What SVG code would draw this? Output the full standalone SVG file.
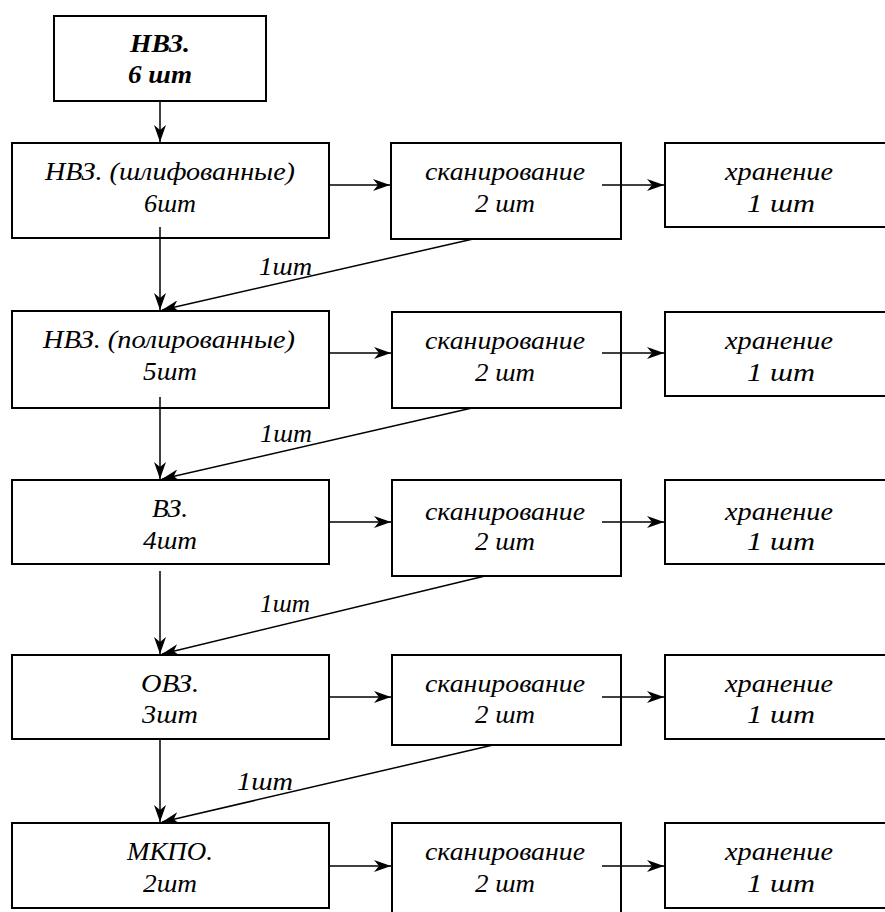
<svg xmlns="http://www.w3.org/2000/svg" width="885" height="912" viewBox="0 0 885 912" font-family="'Liberation Serif', serif">
<style>
rect.b{fill:#fff;stroke:#000;stroke-width:2}
text{font-family:'Liberation Serif',serif;font-style:italic;font-size:25px;fill:#000;text-anchor:middle}
text.bd{font-weight:bold}
text.lb{text-anchor:start}
.c line{stroke:#000;stroke-width:1.5;marker-end:url(#ah)}
</style>
<defs>
<marker id="ah" markerUnits="userSpaceOnUse" markerWidth="18" markerHeight="12" refX="17" refY="6" orient="auto">
<path d="M0,0 L17,6 L0,12 L5,6 z" fill="#000"/>
</marker>
</defs>
<g id="n0"><rect class="b" x="54" y="16" width="212" height="85"/><text class="bd" x="160" y="52" textLength="60" lengthAdjust="spacingAndGlyphs">НВЗ.</text><text class="bd" x="160" y="83" textLength="64" lengthAdjust="spacingAndGlyphs">6 шт</text></g>

<g id="n1"><rect class="b" x="12" y="143" width="317" height="95"/><text x="170" y="180" textLength="250" lengthAdjust="spacingAndGlyphs">НВЗ. (шлифованные)</text><text x="170" y="212" textLength="52" lengthAdjust="spacingAndGlyphs">6шт</text></g>
<g id="s1"><rect class="b" x="391" y="143" width="230" height="96"/><text x="505" y="180" textLength="160" lengthAdjust="spacingAndGlyphs">сканирование</text><text x="505" y="212" textLength="60" lengthAdjust="spacingAndGlyphs">2 шт</text></g>
<g id="h1"><rect class="b" x="665" y="143" width="225" height="84"/><text x="779" y="180" textLength="108" lengthAdjust="spacingAndGlyphs">хранение</text><text x="781" y="212" textLength="68" lengthAdjust="spacingAndGlyphs">1  шт</text></g>

<g id="n2"><rect class="b" x="12" y="311" width="317" height="97"/><text x="169" y="348" textLength="252" lengthAdjust="spacingAndGlyphs">НВЗ. (полированные)</text><text x="170" y="380" textLength="54" lengthAdjust="spacingAndGlyphs">5шт</text></g>
<g id="s2"><rect class="b" x="392" y="312" width="229" height="96"/><text x="505" y="349" textLength="160" lengthAdjust="spacingAndGlyphs">сканирование</text><text x="505" y="381" textLength="60" lengthAdjust="spacingAndGlyphs">2 шт</text></g>
<g id="h2"><rect class="b" x="665" y="312" width="225" height="84"/><text x="779" y="349" textLength="108" lengthAdjust="spacingAndGlyphs">хранение</text><text x="781" y="381" textLength="68" lengthAdjust="spacingAndGlyphs">1  шт</text></g>

<g id="n3"><rect class="b" x="12" y="480" width="317" height="84"/><text x="170" y="517" textLength="36" lengthAdjust="spacingAndGlyphs">ВЗ.</text><text x="170" y="549" textLength="54" lengthAdjust="spacingAndGlyphs">4шт</text></g>
<g id="s3"><rect class="b" x="392" y="480" width="229" height="96"/><text x="505" y="520" textLength="160" lengthAdjust="spacingAndGlyphs">сканирование</text><text x="505" y="550" textLength="60" lengthAdjust="spacingAndGlyphs">2 шт</text></g>
<g id="h3"><rect class="b" x="665" y="480" width="225" height="84"/><text x="779" y="520" textLength="108" lengthAdjust="spacingAndGlyphs">хранение</text><text x="781" y="550" textLength="68" lengthAdjust="spacingAndGlyphs">1  шт</text></g>

<g id="n4"><rect class="b" x="12" y="655" width="317" height="84"/><text x="170" y="692" textLength="58" lengthAdjust="spacingAndGlyphs">ОВЗ.</text><text x="170" y="723" textLength="56" lengthAdjust="spacingAndGlyphs">3шт</text></g>
<g id="s4"><rect class="b" x="392" y="655" width="229" height="90"/><text x="505" y="692" textLength="160" lengthAdjust="spacingAndGlyphs">сканирование</text><text x="505" y="723" textLength="60" lengthAdjust="spacingAndGlyphs">2 шт</text></g>
<g id="h4"><rect class="b" x="665" y="655" width="225" height="84"/><text x="779" y="692" textLength="108" lengthAdjust="spacingAndGlyphs">хранение</text><text x="781" y="723" textLength="68" lengthAdjust="spacingAndGlyphs">1  шт</text></g>

<g id="n5"><rect class="b" x="12" y="823" width="317" height="85"/><text x="170" y="860" textLength="86" lengthAdjust="spacingAndGlyphs">МКПО.</text><text x="170" y="892" textLength="54" lengthAdjust="spacingAndGlyphs">2шт</text></g>
<g id="s5"><rect class="b" x="392" y="823" width="229" height="95"/><text x="505" y="860" textLength="160" lengthAdjust="spacingAndGlyphs">сканирование</text><text x="505" y="892" textLength="60" lengthAdjust="spacingAndGlyphs">2 шт</text></g>
<g id="h5"><rect class="b" x="665" y="823" width="225" height="85"/><text x="779" y="860" textLength="108" lengthAdjust="spacingAndGlyphs">хранение</text><text x="781" y="892" textLength="68" lengthAdjust="spacingAndGlyphs">1  шт</text></g>

<g id="connectors" class="c">
<line x1="160" y1="101" x2="160" y2="142"/>
<line x1="329" y1="185" x2="390" y2="185"/>
<line x1="602" y1="185" x2="664" y2="185"/>
<line x1="160" y1="227" x2="160" y2="310"/>
<line x1="473" y1="239" x2="162" y2="310"/>

<line x1="329" y1="353" x2="391" y2="353"/>
<line x1="602" y1="353" x2="664" y2="353"/>
<line x1="160" y1="397" x2="160" y2="479"/>
<line x1="472" y1="408" x2="162" y2="479"/>

<line x1="329" y1="522" x2="391" y2="522"/>
<line x1="602" y1="522" x2="664" y2="522"/>
<line x1="160" y1="571" x2="160" y2="654"/>
<line x1="485" y1="576" x2="162" y2="654"/>

<line x1="329" y1="697" x2="391" y2="697"/>
<line x1="602" y1="697" x2="664" y2="697"/>
<line x1="160" y1="739" x2="160" y2="822"/>
<line x1="493" y1="745" x2="162" y2="822"/>

<line x1="329" y1="866" x2="391" y2="866"/>
<line x1="602" y1="866" x2="664" y2="866"/>
</g>
<g id="labels">
<text class="lb" x="259" y="275" textLength="53" lengthAdjust="spacingAndGlyphs">1шт</text>
<text class="lb" x="260" y="442" textLength="52" lengthAdjust="spacingAndGlyphs">1шт</text>
<text class="lb" x="260" y="612" textLength="50" lengthAdjust="spacingAndGlyphs">1шт</text>
<text class="lb" x="237" y="790" textLength="56" lengthAdjust="spacingAndGlyphs">1шт</text>
</g>
</svg>
